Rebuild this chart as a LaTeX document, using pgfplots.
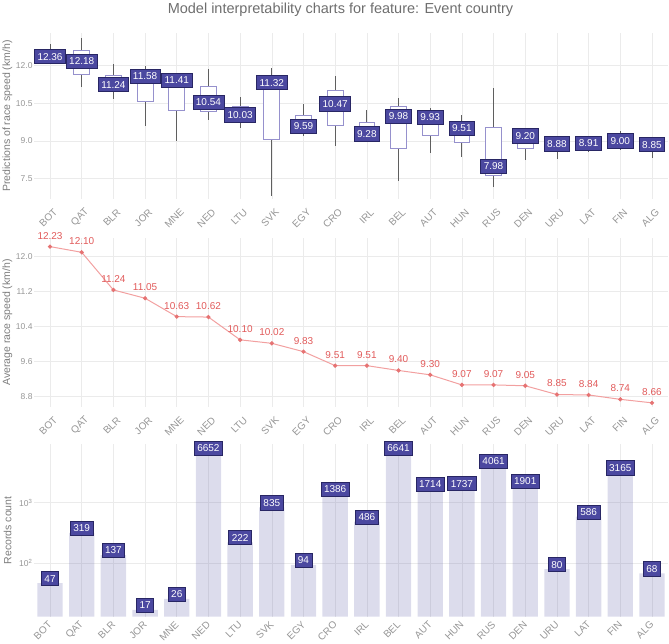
\documentclass[border=0pt]{standalone}
\usepackage{fontspec}
\setmainfont{Liberation Sans}
\usepackage{pgfplots}
\usepackage{pgfplotstable}
\pgfplotsset{compat=1.18}
\usepgfplotslibrary{statistics}
\definecolor{lblfill}{RGB}{75,72,160}
\definecolor{lbldraw}{RGB}{40,38,100}
\definecolor{boxdraw}{RGB}{150,145,205}
\definecolor{whisk}{RGB}{95,95,95}
\definecolor{gridc}{RGB}{235,235,235}
\definecolor{tickc}{RGB}{150,150,150}
\definecolor{labc}{RGB}{125,125,125}
\definecolor{titc}{RGB}{110,110,110}
\definecolor{linec}{RGB}{242,160,160}
\definecolor{markc}{RGB}{230,115,115}
\definecolor{redlab}{RGB}{225,90,90}
\definecolor{barc}{RGB}{80,80,160}

\pgfplotstableread{
x y lab
0 12.36 12.36
1 12.18 12.18
2 11.24 11.24
3 11.58 11.58
4 11.41 11.41
5 10.54 10.54
6 10.03 10.03
7 11.32 11.32
8 9.59 9.59
9 10.47 10.47
10 9.28 9.28
11 9.98 9.98
12 9.93 9.93
13 9.51 9.51
14 7.98 7.98
15 9.20 9.20
16 8.88 8.88
17 8.91 8.91
18 9.00 9.00
19 8.85 8.85
}\predtab

\pgfplotstableread{
x y lab
0 12.23 12.23
1 12.10 12.10
2 11.24 11.24
3 11.05 11.05
4 10.63 10.63
5 10.62 10.62
6 10.10 10.10
7 10.02 10.02
8 9.83 9.83
9 9.51 9.51
10 9.51 9.51
11 9.40 9.40
12 9.30 9.30
13 9.07 9.07
14 9.07 9.07
15 9.05 9.05
16 8.85 8.85
17 8.84 8.84
18 8.74 8.74
19 8.66 8.66
}\avgtab

\pgfplotstableread{
x y lab
0 47 47
1 319 319
2 137 137
3 17 17
4 26 26
5 6652 6652
6 222 222
7 835 835
8 94 94
9 1386 1386
10 486 486
11 6641 6641
12 1714 1714
13 1737 1737
14 4061 4061
15 1901 1901
16 80 80
17 586 586
18 3165 3165
19 68 68
}\cnttab

\tikzset{lbl/.style={fill=lblfill, draw=lbldraw, line width=0.8pt, text=white, font=\fontsize{10}{12}\selectfont, inner xsep=3pt, inner ysep=3.6pt, anchor=center}}

\pgfplotsset{
  panel/.style={
    scale only axis, width=633.6pt, xmin=-0.5, xmax=19.5,
    xtick={0,...,19},
    xticklabels={BOT,QAT,BLR,JOR,MNE,NED,LTU,SVK,EGY,CRO,IRL,BEL,AUT,HUN,RUS,DEN,URU,LAT,FIN,ALG},
    axis line style={draw=none},
    major tick length=0pt, minor tick length=0pt,
    tick style={draw=none},
    xmajorgrids, ymajorgrids,
    grid style={gridc, line width=0.6pt},
    tick label style={tickc},
    xticklabel style={font=\fontsize{10}{12}\selectfont, inner sep=0pt, anchor=east, xshift=5.5pt, yshift=-11.5pt, rotate=45},
    yticklabel style={font=\fontsize{8.5}{10}\selectfont, inner sep=1.5pt, anchor=east},
    /pgf/number format/assume math mode=true,
    ylabel style={font=\fontsize{10.5}{12}\selectfont, labc, anchor=center, at={(axis description cs:-0.0421,0.5)}},
    clip=false,
    anchor=south west,
  },
  bp/.style={boxplot prepared={#1, box extend=0.5, whisker extend=0},
    boxplot/draw direction=y,
    boxplot/every box/.style={draw=boxdraw, fill=white, line width=0.8pt},
    boxplot/every whisker/.style={draw=whisk, line width=0.8pt},
    boxplot/every median/.style={draw=none}},
}

\begin{document}
\begin{tikzpicture}
\path[use as bounding box] (0,0) rectangle (669pt,643pt);
\node[font=\fontsize{14.5}{16}\selectfont, titc, anchor=base] at (340.5pt,629.7pt) {Model interpretability charts for feature: Event country};

% Panel 1: box plots
\begin{axis}[panel, at={(34.2pt,444pt)}, height=166pt,
  ymin=6.677, ymax=13.306, ytick={7.5,9,10.5,12},
  yticklabels={7.5,9.0,10.5,12.0},
  ylabel={Predictions of race speed (km/h)}]
\addplot[bp={draw position=0, lower whisker=12.10, lower quartile=12.20, median=12.37, upper quartile=12.55, upper whisker=12.86}] coordinates {};
\addplot[bp={draw position=1, lower whisker=11.14, lower quartile=11.66, median=12.15, upper quartile=12.63, upper whisker=13.09}] coordinates {};
\addplot[bp={draw position=2, lower whisker=10.67, lower quartile=11.05, median=11.34, upper quartile=11.63, upper whisker=12.06}] coordinates {};
\addplot[bp={draw position=3, lower whisker=9.60, lower quartile=10.59, median=11.20, upper quartile=11.80, upper whisker=12.00}] coordinates {};
\addplot[bp={draw position=4, lower whisker=9.00, lower quartile=10.20, median=10.85, upper quartile=11.50, upper whisker=11.60}] coordinates {};
\addplot[bp={draw position=5, lower whisker=9.83, lower quartile=10.19, median=10.70, upper quartile=11.19, upper whisker=11.85}] coordinates {};
\addplot[bp={draw position=6, lower whisker=9.52, lower quartile=9.85, median=10.10, upper quartile=10.39, upper whisker=10.74}] coordinates {};
\addplot[bp={draw position=7, lower whisker=6.80, lower quartile=9.06, median=10.20, upper quartile=11.40, upper whisker=11.92}] coordinates {};
\addplot[bp={draw position=8, lower whisker=9.19, lower quartile=9.40, median=9.70, upper quartile=10.03, upper whisker=10.47}] coordinates {};
\addplot[bp={draw position=9, lower whisker=8.80, lower quartile=9.63, median=10.30, upper quartile=11.03, upper whisker=11.60}] coordinates {};
\addplot[bp={draw position=10, lower whisker=9.00, lower quartile=9.05, median=9.40, upper quartile=9.74, upper whisker=10.23}] coordinates {};
\addplot[bp={draw position=11, lower whisker=7.40, lower quartile=8.70, median=9.50, upper quartile=10.36, upper whisker=10.72}] coordinates {};
\addplot[bp={draw position=12, lower whisker=8.50, lower quartile=9.23, median=9.70, upper quartile=10.15, upper whisker=10.31}] coordinates {};
\addplot[bp={draw position=13, lower whisker=8.34, lower quartile=8.93, median=9.30, upper quartile=9.70, upper whisker=10.03}] coordinates {};
\addplot[bp={draw position=14, lower whisker=7.14, lower quartile=7.60, median=8.50, upper quartile=9.52, upper whisker=11.10}] coordinates {};
\addplot[bp={draw position=15, lower whisker=8.23, lower quartile=8.70, median=9.00, upper quartile=9.30, upper whisker=9.45}] coordinates {};
\addplot[bp={draw position=16, lower whisker=8.26, lower quartile=8.60, median=8.80, upper quartile=8.95, upper whisker=9.10}] coordinates {};
\addplot[bp={draw position=17, lower whisker=8.57, lower quartile=8.62, median=8.80, upper quartile=9.00, upper whisker=9.15}] coordinates {};
\addplot[bp={draw position=18, lower whisker=8.63, lower quartile=8.80, median=9.00, upper quartile=9.20, upper whisker=9.39}] coordinates {};
\addplot[bp={draw position=19, lower whisker=8.33, lower quartile=8.60, median=8.80, upper quartile=8.95, upper whisker=9.10}] coordinates {};
\addplot[draw=none, mark=none, nodes near coords, point meta=explicit symbolic,
  nodes near coords style={lbl}] table[x=x, y=y, meta=lab] {\predtab};
\end{axis}

% Panel 2: average line
\begin{axis}[panel, at={(34.2pt,236pt)}, height=169pt,
  ymin=8.565, ymax=12.427, ytick={8.8,9.6,10.4,11.2,12.0},
  yticklabels={8.8,9.6,10.4,11.2,12.0},
  ylabel={Average race speed (km/h)}]
\addplot[linec, line width=1pt, mark=*, mark size=1.6pt, mark options={fill=markc, draw=markc},
  nodes near coords, point meta=explicit symbolic,
  nodes near coords style={text=redlab, font=\fontsize{10}{12}\selectfont, inner sep=0pt, anchor=center, yshift=11pt}]
  table[x=x, y=y, meta=lab] {\avgtab};
\end{axis}

% Panel 3: counts
\begin{axis}[panel, at={(34.2pt,26.3pt)}, height=172.7pt,
  xticklabel style={yshift=7.5pt},
  ymode=log, log origin=infty, ymin=13.18, ymax=9268,
  ytick={100,1000}, yticklabels={10\textsuperscript{2},10\textsuperscript{3}},
  ylabel={Records count}]
\addplot[ybar, bar width=0.8, fill=barc, fill opacity=0.2, draw=none,
  nodes near coords, point meta=explicit symbolic,
  nodes near coords style={lbl, fill opacity=1, text opacity=1, draw opacity=1, yshift=4.5pt}]
  table[x=x, y=y, meta=lab] {\cnttab};
\end{axis}
\end{tikzpicture}
\end{document}
